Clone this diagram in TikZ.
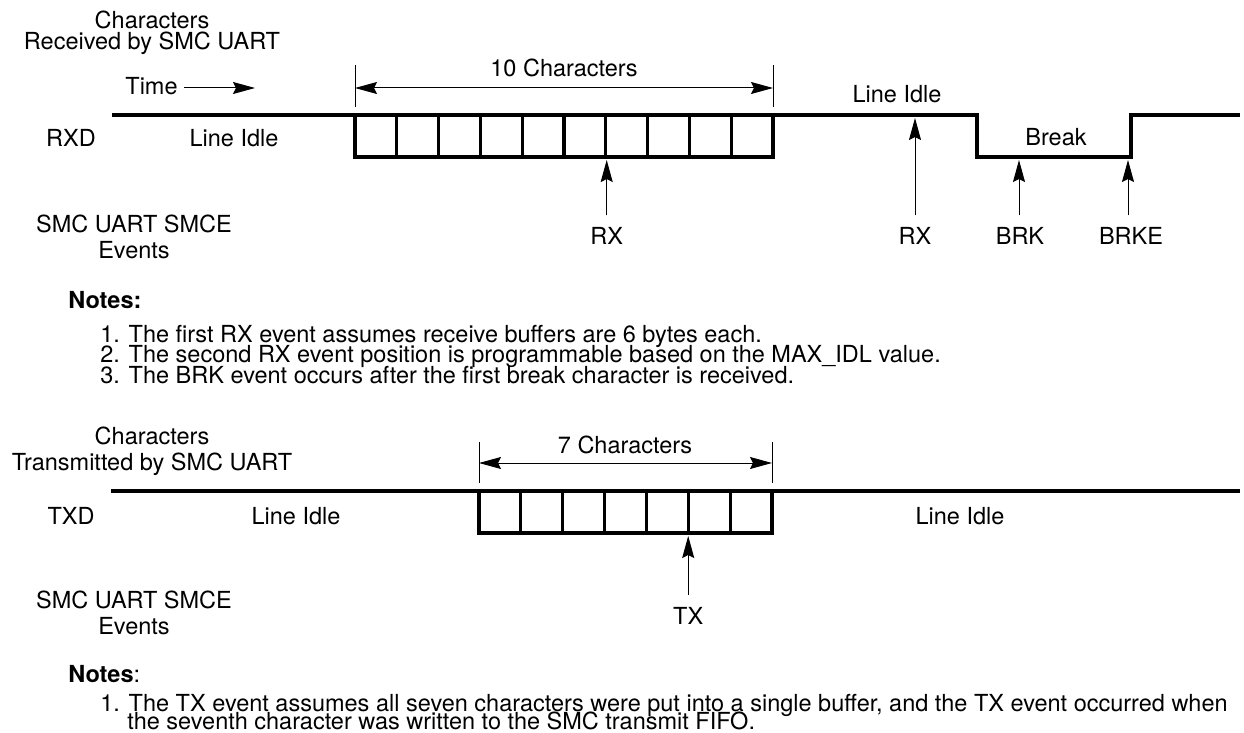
\documentclass[tikz,border=0pt]{standalone}
\usepackage{fontspec}
\setmainfont{TeX Gyre Heros}
\usetikzlibrary{arrows.meta, positioning, calc}

\begin{document}
\begin{tikzpicture}[x=0.5pt, y=-0.5pt, font=\fontsize{11.75}{9.4}\selectfont,
  signal/.style={line width=1.6pt, line join=miter},
  thinline/.style={line width=0.5pt},
  evt/.style={line width=0.5pt, -{Stealth[length=11pt, width=6pt, inset=1.5pt]}},
  dimarrow/.style={line width=0.5pt,
    {Stealth[length=11pt, width=6pt, inset=1.5pt]}-{Stealth[length=11pt, width=6pt, inset=1.5pt]}},
  lbl/.style={anchor=base, inner sep=0pt},
  twoline/.style={lbl, align=center, font=\fontsize{11.75}{#1}\selectfont},
  note/.style={anchor=base west, inner sep=0pt}]

  \useasboundingbox (0,0) rectangle (1244,733);

  % --- Receive side: labels ---
  \node[twoline=10.5pt] (rxtitle) at (152,50) {Characters\\Received by SMC UART};
  \node[lbl, anchor=base west] (time) at (125,95) {Time};
  \coordinate (timeend) at (255,88);
  \draw[evt, shorten <=3pt] (time.east |- timeend) -- (timeend);
  \node[lbl] (rxd) at (71,147) {RXD};
  \node[lbl] (rxidle1) at (234,147) {Line Idle};
  \node[lbl] (rxidle2) at (897,103) {Line Idle};
  \node[lbl] (brk) at (1056,146) {Break};
  \node[twoline=13pt] (rxev) at (134,258) {SMC UART SMCE\\Events};

  % --- RXD waveform ---
  \draw[signal] (112,115) -- (355,115);
  \draw[signal] (355,115) rectangle (773,157);
  \foreach \i in {1,...,9}{
    \draw[signal] ({355+41.8*\i},115) -- ++(0,42);
  }
  \draw[signal] (773,115) -- (977,115) -- (977,157) -- (1131,157)
    -- (1131,115) -- (1240,115);

  % --- 10 characters span ---
  \draw[thinline] (355,65) -- (355,107);
  \draw[thinline] (773,65) -- (773,107);
  \coordinate (span10a) at (355,88);
  \coordinate (span10b) at (773,88);
  \draw[dimarrow] (span10a) -- (span10b);
  \node[lbl] (span10) at (564,77) {10 Characters};

  % --- Receive events ---
  \coordinate (rxtip1) at (606.7,160);
  \coordinate (rxtip2) at (915,118);
  \coordinate (brktip) at (1019,160);
  \coordinate (brketip) at (1128,160);
  \node[lbl] (rx1) at (606.7,244) {RX};
  \node[lbl] (rx2) at (915,244) {RX};
  \node[lbl] (brkev) at (1020,244) {BRK};
  \node[lbl] (brkeev) at (1131,244) {BRKE};
  \draw[evt, shorten <=5.5pt] (rx1) -- (rxtip1);
  \draw[evt, shorten <=5.5pt] (rx2) -- (rxtip2);
  \draw[evt, shorten <=5.5pt] (brkev.north -| brktip) -- (brktip);
  \draw[evt, shorten <=5.5pt] (brkeev.north -| brketip) -- (brketip);

  % --- Receive notes ---
  \node[note] (rxnotes) at (68,308) {\bfseries Notes:};
  \node[note] (rxnote1) at (100,343) {1. The first RX event assumes receive buffers are 6 bytes each.};
  \node[note] (rxnote2) at (100,363) {2. The second RX event position is programmable based on the MAX\_IDL value.};
  \node[note] (rxnote3) at (100,383) {3. The BRK event occurs after the first break character is received.};

  % --- Transmit side: labels ---
  \node[twoline=13pt] (txtitle) at (152,470) {Characters\\Transmitted by SMC UART};
  \node[lbl] (txd) at (71,524) {TXD};
  \node[lbl] (txidle1) at (296,524) {Line Idle};
  \node[lbl] (txidle2) at (960,524) {Line Idle};
  \node[twoline=13pt] (txev) at (134,634) {SMC UART SMCE\\Events};

  % --- TXD waveform ---
  \draw[signal] (111,491) -- (479,491);
  \draw[signal] (479,491) rectangle (772,533);
  \foreach \i in {1,...,6}{
    \draw[signal] ({479+41.86*\i},491) -- ++(0,42);
  }
  \draw[signal] (772,491) -- (1240,491);

  % --- 7 characters span ---
  \draw[thinline] (479,442) -- (479,483);
  \draw[thinline] (772,442) -- (772,483);
  \coordinate (span7a) at (479,463);
  \coordinate (span7b) at (772,463);
  \draw[dimarrow] (span7a) -- (span7b);
  \node[lbl] (span7) at (625,453) {7 Characters};

  % --- Transmit event ---
  \coordinate (txtip) at (688.2,536);
  \node[lbl] (tx) at (688.2,624) {TX};
  \draw[evt, shorten <=5.5pt] (tx) -- (txtip);

  % --- Transmit notes ---
  \node[note] (txnotes) at (68,682) {\textbf{Notes}:};
  \node[note] (txnote1) at (100,711) {1. The TX event assumes all seven characters were put into a single buffer, and the TX event occurred when};
  \node[note] (txnote2) at (127,729) {the seventh character was written to the SMC transmit FIFO.};

\end{tikzpicture}
\end{document}
